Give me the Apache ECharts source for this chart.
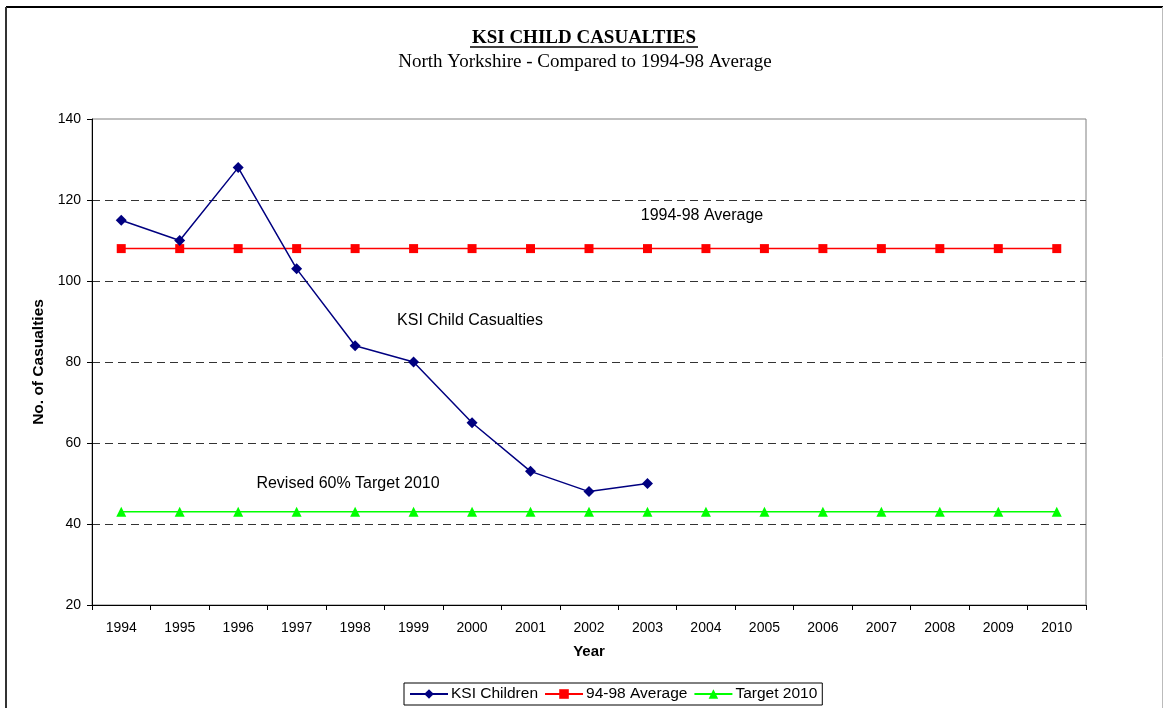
<!DOCTYPE html>
<html><head><meta charset="utf-8">
<script src="https://cdn.jsdelivr.net/npm/echarts@6/dist/echarts.min.js"></script>
<style>html,body{margin:0;padding:0;background:#fff}#c{width:1163px;height:708px}</style>
</head><body><div id="c"></div>
<script>
const years = ['1994','1995','1996','1997','1998','1999','2000','2001','2002','2003','2004','2005','2006','2007','2008','2009','2010'];
const ksiChildren = [115,110,128,103,84,80,65,53,48,50];
const average9498 = [108,108,108,108,108,108,108,108,108,108,108,108,108,108,108,108,108];
const target2010 = [43,43,43,43,43,43,43,43,43,43,43,43,43,43,43,43,43];
const yTicks = {min:20, max:140, interval:20};

const chart = echarts.init(document.getElementById('c'), null, {renderer:'canvas'});
const sans = 'Liberation Sans, Arial, sans-serif';
const serif = 'Liberation Serif, Times New Roman, serif';
chart.setOption({
  animation:false,
  backgroundColor:'#fff',
  grid:{left:92, right:77, top:119, bottom:103, show:true, borderColor:'#808080', borderWidth:1, backgroundColor:'transparent'},
  legend:{
    bottom:3, left:404, itemGap:6, itemWidth:38, itemHeight:12,
    borderColor:'#000', borderWidth:1, padding:[3,5,3,5], borderRadius:0,
    textStyle:{fontFamily:sans, fontSize:15.5, color:'#000', padding:[0,0,0,-2]},
    data:['KSI Children','94-98 Average','Target 2010']
  },
  xAxis:{
    type:'category', data:years, boundaryGap:true,
    name:'Year', nameLocation:'middle', nameGap:39,
    nameTextStyle:{fontFamily:sans, fontSize:15, fontWeight:'bold', color:'#000'},
    axisLine:{lineStyle:{color:'#000', width:1}},
    axisTick:{show:true, length:5, lineStyle:{color:'#000'}},
    axisLabel:{fontFamily:sans, fontSize:14, color:'#000', margin:16},
    splitLine:{show:false}
  },
  yAxis:{
    type:'value', min:yTicks.min, max:yTicks.max, interval:yTicks.interval,
    name:'No. of Casualties', nameLocation:'middle', nameGap:43,
    nameTextStyle:{fontFamily:sans, fontSize:15.5, fontWeight:'bold', color:'#000'},
    axisLine:{show:true, lineStyle:{color:'#000', width:1}},
    axisTick:{show:true, length:5, lineStyle:{color:'#000'}},
    axisLabel:{fontFamily:sans, fontSize:14, color:'#000', margin:11},
    splitLine:{show:true, showMinLine:false, showMaxLine:false, lineStyle:{color:'#333', type:[8,5], width:1}}
  },
  series:[
    {name:'KSI Children', type:'line', data:ksiChildren, symbol:'diamond', symbolSize:11,
     itemStyle:{color:'#000080'}, lineStyle:{color:'#000080', width:1.5}, z:5},
    {name:'94-98 Average', type:'line', data:average9498, symbol:'rect', symbolSize:9,
     itemStyle:{color:'#ff0000'}, lineStyle:{color:'#ff0000', width:1.5}, z:4},
    {name:'Target 2010', type:'line', data:target2010, symbol:'triangle', symbolSize:10,
     itemStyle:{color:'#00ff00'}, lineStyle:{color:'#00ff00', width:1.5}, z:4}
  ],
  graphic:[
    {type:'line', shape:{x1:6, y1:7, x2:1163, y2:7}, style:{stroke:'#000', lineWidth:2}},
    {type:'line', shape:{x1:6, y1:7, x2:6, y2:708}, style:{stroke:'#333', lineWidth:2}},
    {type:'line', shape:{x1:1162.5, y1:7, x2:1162.5, y2:708}, style:{stroke:'#bbb', lineWidth:1}},
    {type:'text', x:584, y:38, style:{text:'KSI CHILD CASUALTIES', font:'bold 19px '+serif, fill:'#000', textAlign:'center', textVerticalAlign:'middle'}},
    {type:'line', shape:{x1:470, y1:47, x2:698, y2:47}, style:{stroke:'#000', lineWidth:1.5}},
    {type:'text', x:585, y:62, style:{text:'North Yorkshire - Compared to 1994-98 Average', font:'19px '+serif, fill:'#000', textAlign:'center', textVerticalAlign:'middle'}},
    {type:'text', x:702, y:216, style:{text:'1994-98 Average', font:'16px '+sans, fill:'#000', textAlign:'center', textVerticalAlign:'middle'}},
    {type:'text', x:470, y:321, style:{text:'KSI Child Casualties', font:'16px '+sans, fill:'#000', textAlign:'center', textVerticalAlign:'middle'}},
    {type:'text', x:348, y:484, style:{text:'Revised 60% Target 2010', font:'16px '+sans, fill:'#000', textAlign:'center', textVerticalAlign:'middle'}}
  ]
});
</script></body></html>
